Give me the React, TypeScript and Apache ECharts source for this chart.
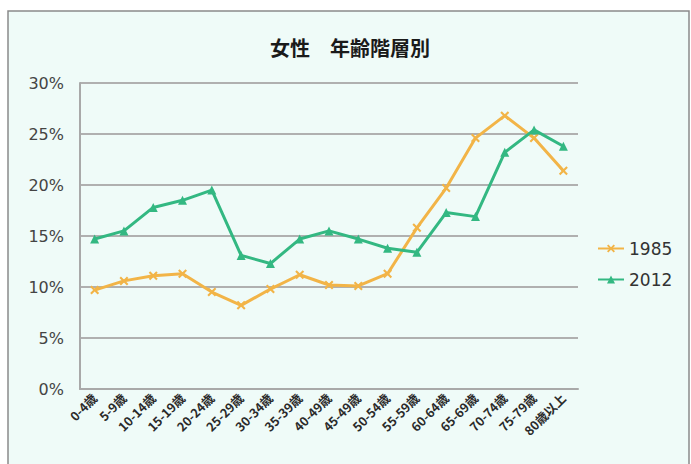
import React, { useEffect, useRef } from "react";
import * as echarts from "echarts";

const categories = [
  "0-4歳", "5-9歳", "10-14歳", "15-19歳", "20-24歳", "25-29歳", "30-34歳", "35-39歳",
  "40-49歳", "45-49歳", "50-54歳", "55-59歳", "60-64歳", "65-69歳", "70-74歳", "75-79歳", "80歳以上",
];
const series1985 = [9.7, 10.6, 11.1, 11.3, 9.5, 8.2, 9.8, 11.2, 10.2, 10.1, 11.3, 15.8, 19.7, 24.6, 26.8, 24.6, 21.4];
const series2012 = [14.7, 15.5, 17.8, 18.5, 19.5, 13.1, 12.3, 14.7, 15.5, 14.7, 13.8, 13.4, 17.3, 16.9, 23.2, 25.4, 23.8];
const titleText = "女性　年齢階層別";

const xMarker = "path://M0,0 L2,2 L4,0 L5,1 L3,3 L5,5 L4,6 L2,4 L0,6 L-1,5 L1,3 L-1,1 Z";

export default function App() {
  const ref = useRef<HTMLDivElement>(null);
  useEffect(() => {
    document.body.style.margin = "0";
    const chart = echarts.init(ref.current!, null, { renderer: "svg" });
    chart.setOption({
      animation: false,
      backgroundColor: "#ffffff",
      graphic: [
        {
          type: "rect",
          shape: { x: 8, y: 11, width: 681, height: 470 },
          style: { fill: "#effbf8", stroke: "#8a8a8a", lineWidth: 1.5 },
          z: -10,
          silent: true,
        },
      ],
      title: {
        text: titleText,
        left: 345,
        textAlign: "center",
        top: 32,
        textStyle: {
          fontFamily: "Noto Sans CJK JP",
          fontSize: 20,
          fontWeight: "bold",
          color: "#1a1a1a",
        },
      },
      legend: {
        orient: "vertical",
        left: 592,
        top: 235,
        itemGap: 14,
        itemWidth: 26,
        itemHeight: 10,
        textStyle: { fontFamily: "DejaVu Sans", fontSize: 17, color: "#333", fontWeight: 500 },
        data: ["1985", "2012"],
      },
      grid: { left: 80, right: 113, top: 83, bottom: 75, containLabel: false },
      xAxis: {
        type: "category",
        data: categories,
        boundaryGap: true,
        axisLine: { lineStyle: { color: "#a9a9a9", width: 2 } },
        axisTick: { show: false },
        axisLabel: {
          interval: 0,
          rotate: 45,
          margin: 7,
          fontSize: 12.5,
          fontWeight: "bold",
          fontFamily: "Noto Sans CJK JP",
          color: "#2a2a2a",
        },
      },
      yAxis: {
        type: "value",
        min: 0,
        max: 30,
        interval: 5,
        axisLine: { show: true, lineStyle: { color: "#a9a9a9", width: 2 } },
        axisTick: { show: false },
        axisLabel: {
          formatter: "{value}%",
          fontSize: 16,
          fontFamily: "DejaVu Sans",
          color: "#444",
          margin: 16,
        },
        splitLine: { lineStyle: { color: "#b0b0b0", width: 2 } },
      },
      series: [
        {
          name: "1985",
          type: "line",
          data: series1985,
          symbol: xMarker,
          symbolSize: 9,
          lineStyle: { color: "#f2b447", width: 3 },
          itemStyle: { color: "#f2b447" },
        },
        {
          name: "2012",
          type: "line",
          data: series2012,
          symbol: "triangle",
          symbolSize: 9,
          lineStyle: { color: "#33b882", width: 3 },
          itemStyle: { color: "#33b882" },
        },
      ],
    });
    return () => chart.dispose();
  }, []);
  return <div ref={ref} style={{ width: 691, height: 464 }} />;
}
